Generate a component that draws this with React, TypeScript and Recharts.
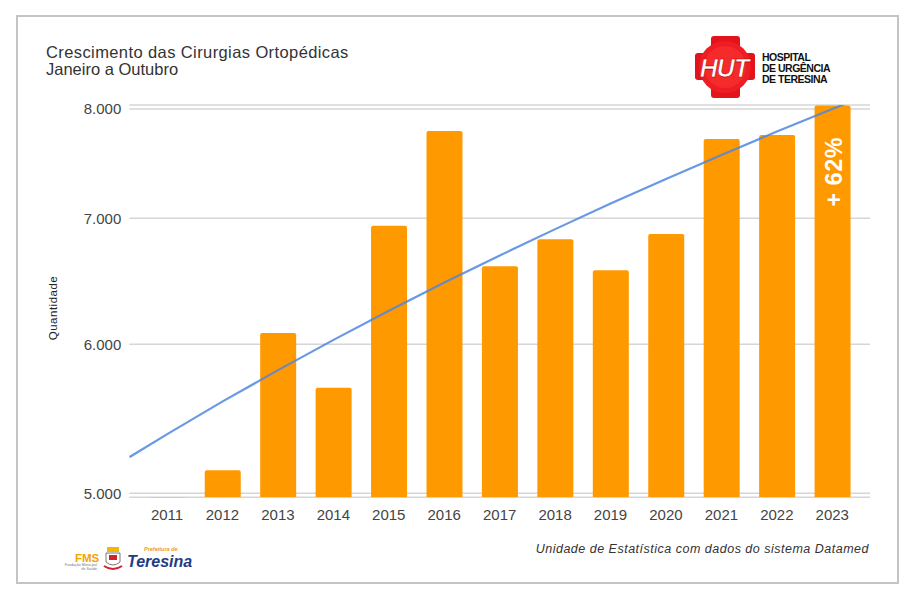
import React from 'react';
import {
  ComposedChart,
  Bar,
  Line,
  XAxis,
  YAxis,
  CartesianGrid,
  LabelList,
} from 'recharts';

// Cirurgias ortopédicas, janeiro a outubro
const years = ['2011', '2012', '2013', '2014', '2015', '2016', '2017', '2018', '2019', '2020', '2021', '2022', '2023'];
const cirurgias = [4959, 5144, 6084, 5690, 6936, 7787, 6600, 6822, 6568, 6866, 7711, 7749, 8033];
const yTicks = [5000, 6000, 7000, 8000];

// linha de tendência (posição = índice da categoria)
const trendPos = [-0.685, 0, 1, 2, 3, 4, 5, 6, 7, 8, 9, 10, 11, 12, 12.68];
const trendValues = [5226, 5376, 5595, 5813, 6032, 6251, 6470, 6688, 6907, 7126, 7344, 7563, 7782, 8000, 8149];

const growthLabel = '+ 62%';

const FONT = 'Arial, "Liberation Sans", sans-serif';

const fmt = (v: number) => String(v).replace(/\B(?=(\d{3})+(?!\d))/g, '.');

const chartData = years.map((year, i) => ({ year, total: cirurgias[i] }));
const trendData = trendPos.map((pos, i) => ({ pos, value: trendValues[i] }));

const renderGrowth = (props: any) => {
  const { x, y, width, index } = props;
  if (index !== cirurgias.length - 1) return null;
  const cx = Number(x) + Number(width) / 2 + 1;
  const cy = Number(y) + 66;
  return (
    <text
      x={cx}
      y={cy}
      fill="#fff"
      fontSize={23}
      fontWeight="bold"
      fontFamily={FONT}
      letterSpacing={0.8}
      textAnchor="middle"
      dominantBaseline="central"
      transform={`rotate(-90 ${cx} ${cy})`}
    >
      {growthLabel}
    </text>
  );
};

function Logos() {
  return (
    <svg width={909} height={600} style={{ position: 'absolute', left: 0, top: 0, pointerEvents: 'none' }}>
      {/* HUT */}
      <rect x={711} y={36} width={29} height={62} rx={3} fill="#e3131b" />
      <rect x={695} y={53} width={60} height={27} rx={3} fill="#e3131b" />
      <circle cx={725} cy={67} r={26} fill="#ee1c25" />
      <circle cx={725} cy={67} r={21} fill="#f52a2a" />
      <text x={724} y={77} fill="#fff" stroke="#b00" strokeWidth={0.6} fontSize={25} fontWeight="bold" fontStyle="italic" fontFamily={FONT} textAnchor="middle" letterSpacing={-1}>
        HUT
      </text>
      <g fontFamily={FONT} fontWeight="bold" fontSize={10.5} fill="#111" letterSpacing={-0.5}>
        <text x={762} y={61}>HOSPITAL</text>
        <text x={762} y={72}>DE URGÊNCIA</text>
        <text x={762} y={82.5}>DE TERESINA</text>
      </g>

      {/* FMS */}
      <text x={75} y={562} fill="#f4a300" fontSize={11.5} fontWeight="bold" fontFamily={FONT}>FMS</text>
      <g fontFamily={FONT} fontSize={3.6} fill="#777" textAnchor="end">
        <text x={97} y={566}>Fundação Municipal</text>
        <text x={97} y={570}>de Saúde</text>
      </g>

      {/* brasão */}
      <rect x={107} y={547} width={12} height={5} fill="#f2b705" />
      <path d="M106 553 h14 v9 q-7 6 -14 0 z" fill="#fff" stroke="#555" strokeWidth={0.8} />
      <rect x={109} y={555} width={8} height={5} fill="#d6202a" />
      <path d="M104 566 q9 6 18 0" stroke="#d6202a" strokeWidth={2} fill="none" />

      {/* Prefeitura de Teresina */}
      <text x={144} y={551} fill="#f39c12" fontSize={5.5} fontWeight="bold" fontStyle="italic" fontFamily={FONT}>Prefeitura de</text>
      <text x={127} y={567} fill="#1d3c87" fontSize={16} fontWeight="900" fontStyle="italic" fontFamily={FONT}>Teresina</text>
    </svg>
  );
}

export default function App() {
  return (
    <div style={{ position: 'absolute', left: 0, top: 0, width: 909, height: 600, background: '#fff', fontFamily: FONT }}>
      <div
        style={{
          position: 'absolute',
          left: 16,
          top: 15,
          width: 883,
          height: 569,
          boxSizing: 'border-box',
          border: '2px solid #c4c4c4',
        }}
      />

      <div style={{ position: 'absolute', left: 46, top: 44, fontSize: 16.5, lineHeight: '16.5px', color: '#333', whiteSpace: 'nowrap' }}>
        <div style={{ letterSpacing: 0.4 }}>Crescimento das Cirurgias Ortopédicas</div>
        <div>Janeiro a Outubro</div>
      </div>

      <div
        style={{
          position: 'absolute',
          left: 53,
          top: 308,
          transform: 'translate(-50%, -50%) rotate(-90deg)',
          fontSize: 11.5,
          letterSpacing: 0.5,
          color: '#222',
          whiteSpace: 'nowrap',
        }}
      >
        Quantidade
      </div>

      <div style={{ position: 'absolute', left: 0, top: 0 }}>
        <ComposedChart
          width={909}
          height={600}
          data={chartData}
          margin={{ top: 105, right: 39, bottom: 72.7, left: 69.3 }}
        >
          <CartesianGrid xAxisId="cat" vertical={false} stroke="#d6d6d6" strokeWidth={1.5} />
          <XAxis
            xAxisId="cat"
            dataKey="year"
            axisLine={false}
            tickLine={false}
            interval={0}
            padding={{ left: 10, right: 10 }}
            tickMargin={6}
            tick={{ fill: '#444', fontSize: 15, fontFamily: FONT }}
          />
          <XAxis
            xAxisId="trend"
            type="number"
            dataKey="pos"
            domain={[-0.685, 12.68]}
            allowDataOverflow
            hide
          />
          <YAxis
            type="number"
            scale="log"
            domain={[4976, 8039]}
            allowDataOverflow
            ticks={yTicks}
            tickFormatter={fmt}
            axisLine={false}
            tickLine={false}
            width={60}
            tick={{ fill: '#444', fontSize: 15, fontFamily: FONT }}
          />
          <Bar
            xAxisId="cat"
            dataKey="total"
            fill="#ff9900"
            barSize={36}
            radius={[2, 2, 0, 0]}
            isAnimationActive={false}
          >
            <LabelList dataKey="total" content={renderGrowth} />
          </Bar>
          <Line
            xAxisId="trend"
            data={trendData}
            dataKey="value"
            type="linear"
            stroke="#4f86e0"
            strokeOpacity={0.85}
            strokeWidth={2.2}
            dot={false}
            activeDot={false}
            isAnimationActive={false}
          />
        </ComposedChart>
      </div>

      <div
        style={{
          position: 'absolute',
          right: 40,
          top: 542,
          fontSize: 12.5,
          letterSpacing: 0.5,
          fontStyle: 'italic',
          color: '#333',
          whiteSpace: 'nowrap',
        }}
      >
        Unidade de Estatística com dados do sistema Datamed
      </div>

      <Logos />
    </div>
  );
}
